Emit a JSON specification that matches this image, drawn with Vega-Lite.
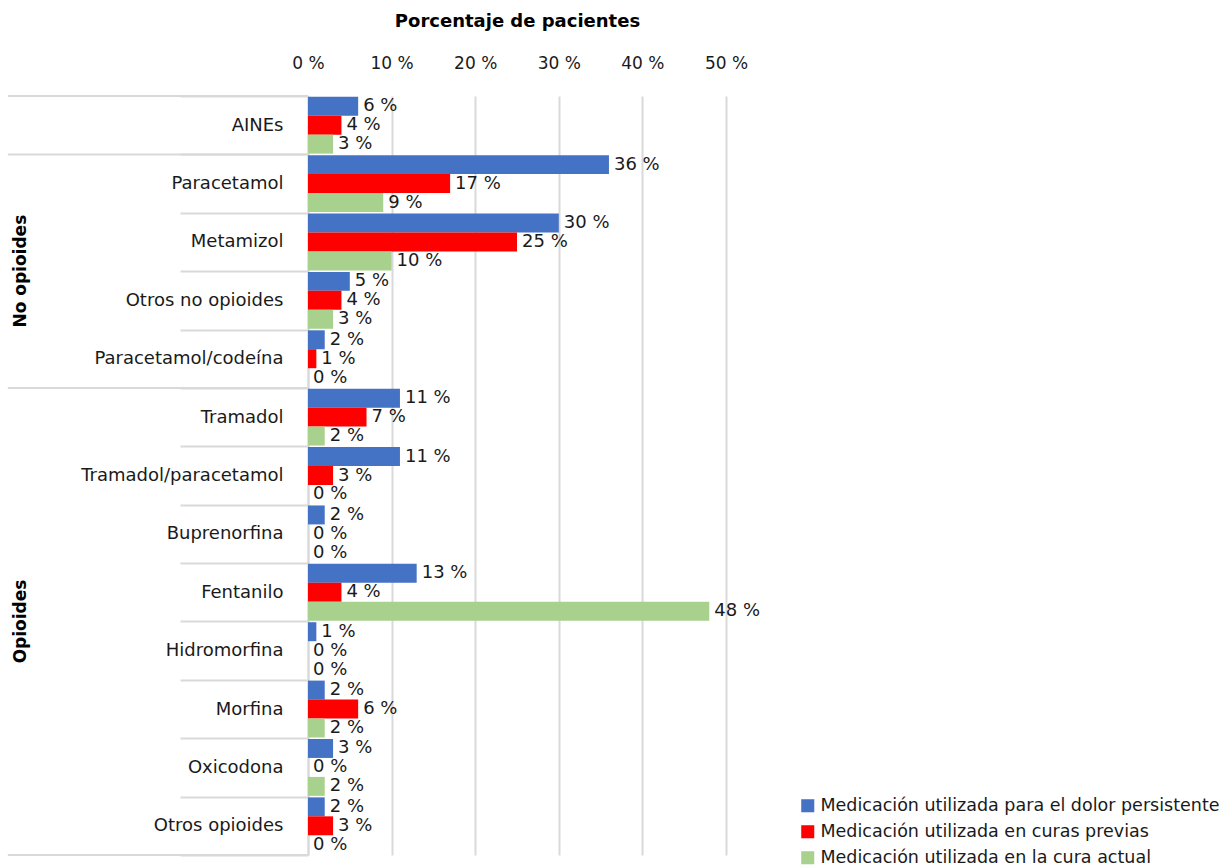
{
  "$schema": "https://vega.github.io/schema/vega-lite/v6.json",
  "width": 418,
  "height": 759,
  "padding": {"left": 6, "top": 12, "right": 5, "bottom": 5},
  "background": "white",
  "config": {"view": {"stroke": null}, "font": "DejaVu Sans"},
  "datasets": {
    "bars": [
      {"categoria": "AINEs", "serie": "Medicación utilizada para el dolor persistente", "pct": 6, "etiqueta": "6 %"},
      {"categoria": "AINEs", "serie": "Medicación utilizada en curas previas", "pct": 4, "etiqueta": "4 %"},
      {"categoria": "AINEs", "serie": "Medicación utilizada en la cura actual", "pct": 3, "etiqueta": "3 %"},
      {"categoria": "Paracetamol", "serie": "Medicación utilizada para el dolor persistente", "pct": 36, "etiqueta": "36 %"},
      {"categoria": "Paracetamol", "serie": "Medicación utilizada en curas previas", "pct": 17, "etiqueta": "17 %"},
      {"categoria": "Paracetamol", "serie": "Medicación utilizada en la cura actual", "pct": 9, "etiqueta": "9 %"},
      {"categoria": "Metamizol", "serie": "Medicación utilizada para el dolor persistente", "pct": 30, "etiqueta": "30 %"},
      {"categoria": "Metamizol", "serie": "Medicación utilizada en curas previas", "pct": 25, "etiqueta": "25 %"},
      {"categoria": "Metamizol", "serie": "Medicación utilizada en la cura actual", "pct": 10, "etiqueta": "10 %"},
      {"categoria": "Otros no opioides", "serie": "Medicación utilizada para el dolor persistente", "pct": 5, "etiqueta": "5 %"},
      {"categoria": "Otros no opioides", "serie": "Medicación utilizada en curas previas", "pct": 4, "etiqueta": "4 %"},
      {"categoria": "Otros no opioides", "serie": "Medicación utilizada en la cura actual", "pct": 3, "etiqueta": "3 %"},
      {"categoria": "Paracetamol/codeína", "serie": "Medicación utilizada para el dolor persistente", "pct": 2, "etiqueta": "2 %"},
      {"categoria": "Paracetamol/codeína", "serie": "Medicación utilizada en curas previas", "pct": 1, "etiqueta": "1 %"},
      {"categoria": "Paracetamol/codeína", "serie": "Medicación utilizada en la cura actual", "pct": 0, "etiqueta": "0 %"},
      {"categoria": "Tramadol", "serie": "Medicación utilizada para el dolor persistente", "pct": 11, "etiqueta": "11 %"},
      {"categoria": "Tramadol", "serie": "Medicación utilizada en curas previas", "pct": 7, "etiqueta": "7 %"},
      {"categoria": "Tramadol", "serie": "Medicación utilizada en la cura actual", "pct": 2, "etiqueta": "2 %"},
      {"categoria": "Tramadol/paracetamol", "serie": "Medicación utilizada para el dolor persistente", "pct": 11, "etiqueta": "11 %"},
      {"categoria": "Tramadol/paracetamol", "serie": "Medicación utilizada en curas previas", "pct": 3, "etiqueta": "3 %"},
      {"categoria": "Tramadol/paracetamol", "serie": "Medicación utilizada en la cura actual", "pct": 0, "etiqueta": "0 %"},
      {"categoria": "Buprenorfina", "serie": "Medicación utilizada para el dolor persistente", "pct": 2, "etiqueta": "2 %"},
      {"categoria": "Buprenorfina", "serie": "Medicación utilizada en curas previas", "pct": 0, "etiqueta": "0 %"},
      {"categoria": "Buprenorfina", "serie": "Medicación utilizada en la cura actual", "pct": 0, "etiqueta": "0 %"},
      {"categoria": "Fentanilo", "serie": "Medicación utilizada para el dolor persistente", "pct": 13, "etiqueta": "13 %"},
      {"categoria": "Fentanilo", "serie": "Medicación utilizada en curas previas", "pct": 4, "etiqueta": "4 %"},
      {"categoria": "Fentanilo", "serie": "Medicación utilizada en la cura actual", "pct": 48, "etiqueta": "48 %"},
      {"categoria": "Hidromorfina", "serie": "Medicación utilizada para el dolor persistente", "pct": 1, "etiqueta": "1 %"},
      {"categoria": "Hidromorfina", "serie": "Medicación utilizada en curas previas", "pct": 0, "etiqueta": "0 %"},
      {"categoria": "Hidromorfina", "serie": "Medicación utilizada en la cura actual", "pct": 0, "etiqueta": "0 %"},
      {"categoria": "Morfina", "serie": "Medicación utilizada para el dolor persistente", "pct": 2, "etiqueta": "2 %"},
      {"categoria": "Morfina", "serie": "Medicación utilizada en curas previas", "pct": 6, "etiqueta": "6 %"},
      {"categoria": "Morfina", "serie": "Medicación utilizada en la cura actual", "pct": 2, "etiqueta": "2 %"},
      {"categoria": "Oxicodona", "serie": "Medicación utilizada para el dolor persistente", "pct": 3, "etiqueta": "3 %"},
      {"categoria": "Oxicodona", "serie": "Medicación utilizada en curas previas", "pct": 0, "etiqueta": "0 %"},
      {"categoria": "Oxicodona", "serie": "Medicación utilizada en la cura actual", "pct": 2, "etiqueta": "2 %"},
      {"categoria": "Otros opioides", "serie": "Medicación utilizada para el dolor persistente", "pct": 2, "etiqueta": "2 %"},
      {"categoria": "Otros opioides", "serie": "Medicación utilizada en curas previas", "pct": 3, "etiqueta": "3 %"},
      {"categoria": "Otros opioides", "serie": "Medicación utilizada en la cura actual", "pct": 0, "etiqueta": "0 %"}
    ],
    "grupos": [
      {"grupo": "No opioides", "categoria": "Metamizol"},
      {"grupo": "Opioides", "categoria": "Fentanilo"}
    ],
    "lineasInicio": [
      {"categoria": "AINEs"},
      {"categoria": "Paracetamol"},
      {"categoria": "Tramadol"}
    ],
    "lineasFin": [
      {"categoria": "Otros opioides"}
    ]
  },
  "resolve": {"scale": {"x": "shared", "y": "shared"}},
  "layer": [
    {
      "data": {"name": "bars"},
      "mark": {"type": "bar"},
      "encoding": {
        "y": {
          "field": "categoria", "type": "nominal",
          "scale": {"domain": ["AINEs", "Paracetamol", "Metamizol", "Otros no opioides", "Paracetamol/codeína", "Tramadol", "Tramadol/paracetamol", "Buprenorfina", "Fentanilo", "Hidromorfina", "Morfina", "Oxicodona", "Otros opioides"], "paddingInner": 0, "paddingOuter": 0},
          "axis": {
            "title": null, "orient": "left",
            "domain": true, "domainColor": "#d9d9d9", "domainWidth": 2,
            "ticks": true, "tickBand": "extent", "tickSize": 128, "tickColor": "#d9d9d9", "tickWidth": 2,
            "labelPadding": -103, "labelFontSize": 18, "labelColor": "#1a1a1a", "labelLimit": 0, "grid": false
          }
        },
        "yOffset": {
          "field": "serie", "type": "nominal",
          "scale": {"domain": ["Medicación utilizada para el dolor persistente", "Medicación utilizada en curas previas", "Medicación utilizada en la cura actual"], "paddingInner": 0, "paddingOuter": 0.04}
        },
        "x": {
          "field": "pct", "type": "quantitative",
          "scale": {"domain": [0, 50], "nice": false},
          "axis": {
            "orient": "top", "title": "Porcentaje de pacientes", "titleFontSize": 18, "titleFontWeight": "bold", "titleColor": "#000000", "titlePadding": 24,
            "values": [0, 10, 20, 30, 40, 50], "labelExpr": "datum.value + ' %'", "labelFlush": false,
            "labelFontSize": 17, "labelColor": "#1a1a1a", "labelPadding": 24,
            "domain": false, "ticks": false, "grid": true, "gridColor": "#d9d9d9", "gridWidth": 2
          }
        },
        "color": {
          "field": "serie", "type": "nominal",
          "scale": {"domain": ["Medicación utilizada para el dolor persistente", "Medicación utilizada en curas previas", "Medicación utilizada en la cura actual"], "range": ["#4472C4", "#FF0000", "#A9D18E"]},
          "legend": {
            "title": null, "orient": "none", "legendX": 491, "legendY": 701,
            "symbolType": "square", "symbolSize": 170, "symbolStrokeWidth": 0,
            "labelFontSize": 17.5, "labelColor": "#1a1a1a", "labelLimit": 0, "rowPadding": 7
          }
        }
      }
    },
    {
      "data": {"name": "bars"},
      "mark": {"type": "text", "align": "left", "baseline": "middle", "dx": 5, "fontSize": 18, "color": "#1a1a1a"},
      "encoding": {
        "y": {"field": "categoria", "type": "nominal"},
        "yOffset": {"field": "serie", "type": "nominal"},
        "x": {"field": "pct", "type": "quantitative"},
        "text": {"field": "etiqueta"}
      }
    },
    {
      "data": {"name": "grupos"},
      "mark": {"type": "text", "angle": 270, "align": "center", "baseline": "middle", "fontSize": 17, "fontWeight": "bold", "color": "#000000"},
      "encoding": {
        "y": {"field": "categoria", "type": "nominal", "bandPosition": 1},
        "x": {"datum": -34.3},
        "text": {"field": "grupo"}
      }
    },
    {
      "data": {"name": "lineasInicio"},
      "mark": {"type": "rule", "color": "#d9d9d9", "strokeWidth": 2},
      "encoding": {
        "y": {"field": "categoria", "type": "nominal", "bandPosition": 0},
        "x": {"datum": -35.9},
        "x2": {"datum": 0}
      }
    },
    {
      "data": {"name": "lineasFin"},
      "mark": {"type": "rule", "color": "#d9d9d9", "strokeWidth": 2},
      "encoding": {
        "y": {"field": "categoria", "type": "nominal", "bandPosition": 1},
        "x": {"datum": -35.9},
        "x2": {"datum": 0}
      }
    }
  ]
}
